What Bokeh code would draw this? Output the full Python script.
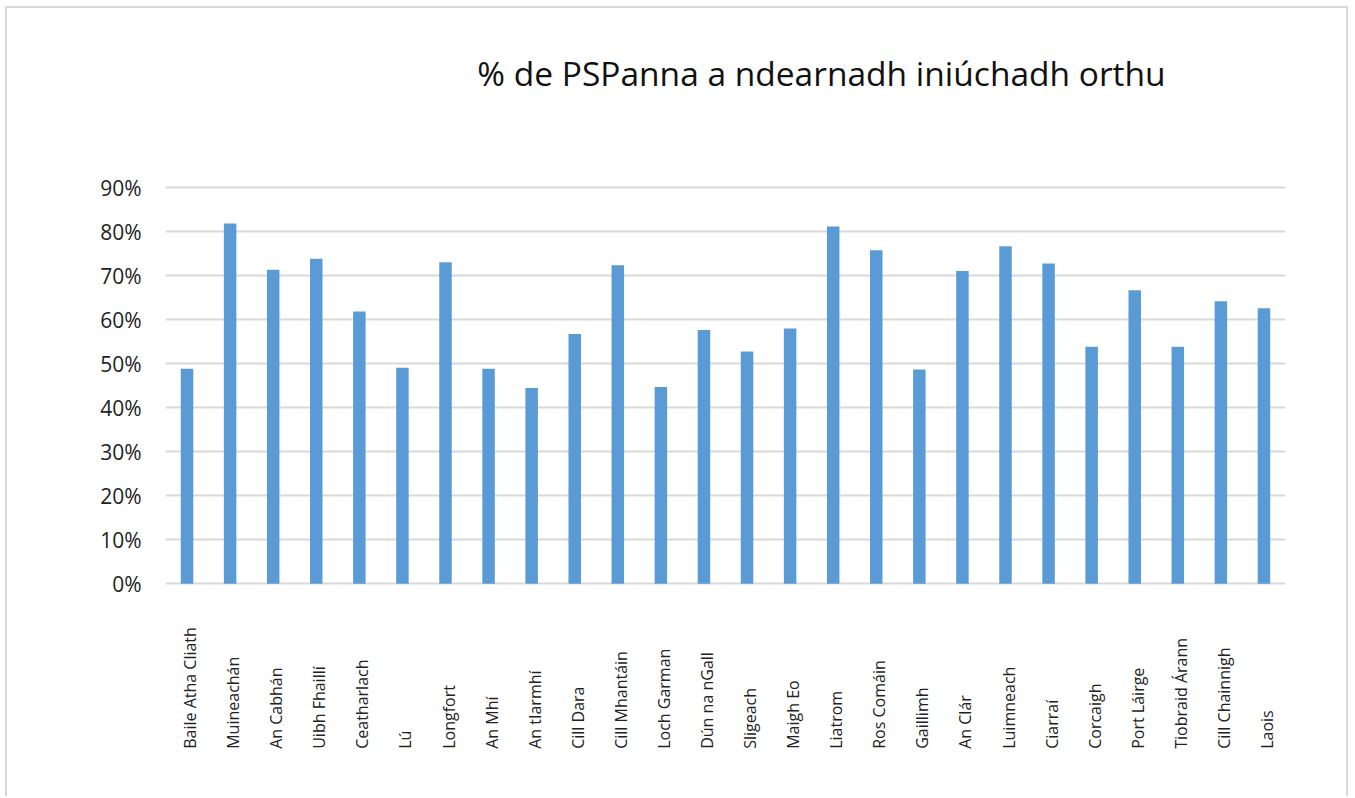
import math
from bokeh.plotting import figure
from bokeh.models import ColumnDataSource, FixedTicker, PrintfTickFormatter
from bokeh.core.properties import value
from bokeh.embed import file_html
from bokeh.resources import INLINE

categories = [
    "Baile Atha Cliath", "Muineachán", "An Cabhán", "Uibh Fhaillí", "Ceatharlach",
    "Lú", "Longfort", "An Mhí", "An tIarmhí", "Cill Dara", "Cill Mhantáin",
    "Loch Garman", "Dún na nGall", "Sligeach", "Maigh Eo", "Liatrom", "Ros Comáin",
    "Gaillimh", "An Clár", "Luimneach", "Ciarraí", "Corcaigh", "Port Láirge",
    "Tiobraid Árann", "Cill Chainnigh", "Laois",
]
values = [48.9, 81.9, 71.4, 73.9, 61.9, 49.1, 73.1, 48.9, 44.5, 56.8, 72.4,
          44.7, 57.7, 52.8, 58.0, 81.2, 75.8, 48.7, 71.1, 76.7, 72.8, 53.9,
          66.7, 53.9, 64.2, 62.6]
y_ticks = [0, 10, 20, 30, 40, 50, 60, 70, 80, 90]
title_text = "% de PSPanna a ndearnadh iniúchadh orthu"

xs = list(range(len(categories)))
src = ColumnDataSource(dict(x=xs, top=values, name=categories, base=[0] * len(xs)))

W, H = 1343, 790
left, right = 158, 65
px_per_unit = 4.4
top_gap_px = 179.3          # canvas px from top edge down to the 90% gridline
y_top = max(y_ticks) + top_gap_px / px_per_unit
y_bot = y_top - H / px_per_unit

p = figure(width=W, height=H, output_backend="svg", toolbar_location=None,
           x_range=(-0.5, len(xs) - 0.5), y_range=(y_bot, y_top),
           min_border_left=left, min_border_right=right,
           min_border_top=0, min_border_bottom=0,
           outline_line_color=None, background_fill_color="white",
           border_fill_color="white")

p.styles = {"margin-left": "5px", "margin-top": "6px",
            "border-top": "2px solid #d9d9d9", "border-left": "2px solid #d9d9d9",
            "border-right": "2px solid #d9d9d9"}

p.vbar(x="x", top="top", bottom="base", width=0.29, source=src,
       fill_color="#5b9bd5", line_color=None)

p.text(x="x", y="base", text="name", source=src, angle=math.pi / 2,
       text_align="left", text_baseline="middle", x_offset=3, y_offset=165,
       text_font=value("Open Sans"), text_font_size="16px", text_color="#222222")

# chart title, placed relative to the top gridline
title_src = ColumnDataSource(dict(x=[(xs[0] + xs[-1]) / 2], y=[max(y_ticks)],
                                  t=[title_text]))
p.text(x="x", y="y", text="t", source=title_src, text_align="center",
       text_baseline="middle", x_offset=96, y_offset=-115,
       text_font=value("Open Sans"), text_font_size="33.5px", text_color="#111111")

p.xaxis.visible = False
p.xgrid.visible = False
p.ygrid.ticker = FixedTicker(ticks=y_ticks)
p.ygrid.grid_line_color = "#d9d9d9"
p.ygrid.grid_line_width = 2

ya = p.yaxis[0]
ya.ticker = FixedTicker(ticks=y_ticks)
ya.formatter = PrintfTickFormatter(format="%d%%")
ya.axis_line_color = None
ya.major_tick_line_color = None
ya.minor_tick_line_color = None
ya.major_label_standoff = 18
ya.major_label_text_font = "Open Sans"
ya.major_label_text_font_size = "21px"
ya.major_label_text_color = "#222222"

open("out.html", "w").write(file_html(p, INLINE))
